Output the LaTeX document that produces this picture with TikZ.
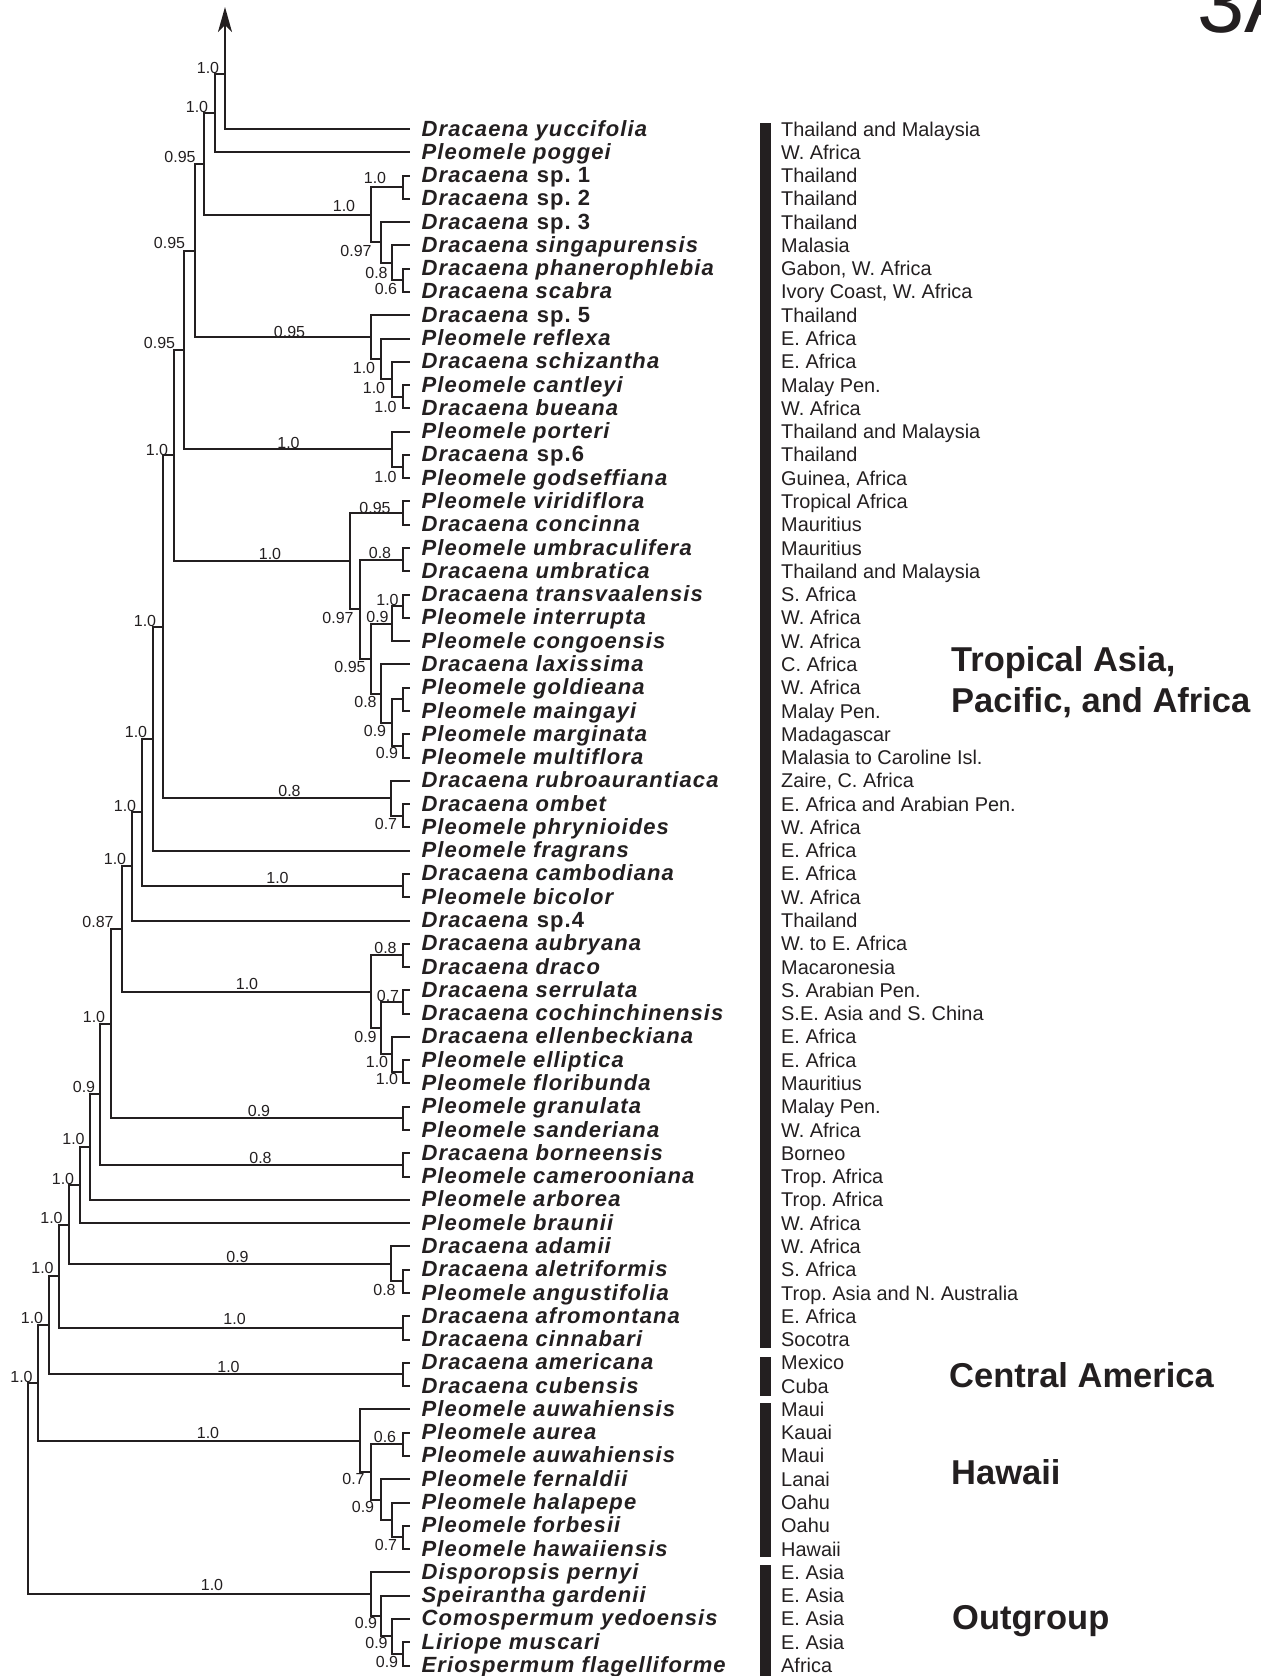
\documentclass[tikz,border=0pt]{standalone}
\usepackage{fontspec}
\setmainfont{Liberation Sans}
\newfontfamily\taxafont{Liberation Sans}[LetterSpace=5.0]
\usetikzlibrary{arrows.meta,calc}
\definecolor{ink}{RGB}{35,31,32}
\frenchspacing

\begin{document}
\begin{tikzpicture}[x=1pt, y=-1pt,
                branch/.style={draw=ink, line width=2pt},
                longarrow/.style={-{Stealth[length=25pt, width=14pt, inset=7pt]}},
                taxon/.style={anchor=base west, inner sep=0pt, text=ink,
                              font=\taxafont\fontsize{22}{24}\selectfont\bfseries\itshape},
                place/.style={anchor=base west, inner sep=0pt, text=ink, font=\fontsize{19.9}{24}\selectfont},
                supp/.style={inner sep=0pt, text=ink, font=\fontsize{16}{16}\selectfont},
                region/.style={anchor=base west, inner sep=0pt, text=ink, font=\fontsize{34.5}{40}\selectfont\bfseries}]

                \useasboundingbox (0,0) rectangle (1261,1676);
                \clip (0,0) rectangle (1261,1676);

                % Taxa and distribution
                \foreach \tx/\pl [count=\i] in {
                    Dracaena yuccifolia/Thailand and Malaysia,
                    Pleomele poggei/W. Africa,
                    Dracaena \textup{sp. 1}/Thailand,
                    Dracaena \textup{sp. 2}/Thailand,
                    Dracaena \textup{sp. 3}/Thailand,
                    Dracaena singapurensis/Malasia,
                    Dracaena phanerophlebia/{Gabon, W. Africa},
                    Dracaena scabra/{Ivory Coast, W. Africa},
                    Dracaena \textup{sp. 5}/Thailand,
                    Pleomele reflexa/E. Africa,
                    Dracaena schizantha/E. Africa,
                    Pleomele cantleyi/Malay Pen.,
                    Dracaena bueana/W. Africa,
                    Pleomele porteri/Thailand and Malaysia,
                    Dracaena \textup{sp.6}/Thailand,
                    Pleomele godseffiana/{Guinea, Africa},
                    Pleomele viridiflora/Tropical Africa,
                    Dracaena concinna/Mauritius,
                    Pleomele umbraculifera/Mauritius,
                    Dracaena umbratica/Thailand and Malaysia,
                    Dracaena transvaalensis/S. Africa,
                    Pleomele interrupta/W. Africa,
                    Pleomele congoensis/W. Africa,
                    Dracaena laxissima/C. Africa,
                    Pleomele goldieana/W. Africa,
                    Pleomele maingayi/Malay Pen.,
                    Pleomele marginata/Madagascar,
                    Pleomele multiflora/Malasia to Caroline Isl.,
                    Dracaena rubroaurantiaca/{Zaire, C. Africa},
                    Dracaena ombet/E. Africa and Arabian Pen.,
                    Pleomele phrynioides/W. Africa,
                    Pleomele fragrans/E. Africa,
                    Dracaena cambodiana/E. Africa,
                    Pleomele bicolor/W. Africa,
                    Dracaena \textup{sp.4}/Thailand,
                    Dracaena aubryana/W. to E. Africa,
                    Dracaena draco/Macaronesia,
                    Dracaena serrulata/S. Arabian Pen.,
                    Dracaena cochinchinensis/S.E. Asia and S. China,
                    Dracaena ellenbeckiana/E. Africa,
                    Pleomele elliptica/E. Africa,
                    Pleomele floribunda/Mauritius,
                    Pleomele granulata/Malay Pen.,
                    Pleomele sanderiana/W. Africa,
                    Dracaena borneensis/Borneo,
                    Pleomele camerooniana/Trop. Africa,
                    Pleomele arborea/Trop. Africa,
                    Pleomele braunii/W. Africa,
                    Dracaena adamii/W. Africa,
                    Dracaena aletriformis/S. Africa,
                    Pleomele angustifolia/Trop. Asia and N. Australia,
                    Dracaena afromontana/E. Africa,
                    Dracaena cinnabari/Socotra,
                    Dracaena americana/Mexico,
                    Dracaena cubensis/Cuba,
                    Pleomele auwahiensis/Maui,
                    Pleomele aurea/Kauai,
                    Pleomele auwahiensis/Maui,
                    Pleomele fernaldii/Lanai,
                    Pleomele halapepe/Oahu,
                    Pleomele forbesii/Oahu,
                    Pleomele hawaiiensis/Hawaii,
                    Disporopsis pernyi/E. Asia,
                    Speirantha gardenii/E. Asia,
                    Comospermum yedoensis/E. Asia,
                    Liriope muscari/E. Asia,
                    Eriospermum flagelliforme/Africa} {
                    \pgfmathsetmacro\yy{129+(\i-1)*23.28}
                    \coordinate (t\i) at (410,\yy);
                    \node[taxon] (tax\i) at (421.5,\yy+7) {\tx};
                    \node[place] (loc\i) at (781,\yy+7) {\pl};
                }

                % Long branch to D. yuccifolia
                \coordinate (yuc) at (225,74);
                \coordinate (yuctop) at (225,7);
                \draw[branch] (yuc) |- (t1);
                \draw[branch, longarrow] (yuc) -- (yuctop);

                % Clades, children first
                \foreach \nd/\nx/\ca/\cb in {
                    nA1/403/t3/t4, nA2/403/t7/t8, nA3/392/t6/nA2, nA4/381/t5/nA3, nA5/371/nA1/nA4,
                    nTop/215/yuc/t2, nB/204/nTop/nA5,
                    nB1/403/t12/t13, nB2/392/t11/nB1, nB3/381/t10/nB2, nB4/371/t9/nB3, nC/195/nB/nB4,
                    nC1/403/t15/t16, nC2/392/t14/nC1, nD/184/nC/nC2,
                    nD1/403/t17/t18, nD2/403/t19/t20, nD3/403/t21/t22, nD4/392/nD3/t23,
                    nD5/403/t25/t26, nD6/403/t27/t28, nD7/392/nD5/nD6, nD8/381/t24/nD7,
                    nD9/371/nD4/nD8, nD10/360/nD2/nD9, nD11/350/nD1/nD10, nE/174/nD/nD11,
                    nE1/403/t30/t31, nE2/391/t29/nE1, nF/163/nE/nE2, nG/153/nF/t32,
                    nH1/403/t33/t34, nH/142/nG/nH1, nI/132/nH/t35,
                    nJ1/403/t36/t37, nJ2/403/t38/t39, nJ3/403/t41/t42, nJ4/392/t40/nJ3,
                    nJ5/381/nJ2/nJ4, nJ6/371/nJ1/nJ5, nJ/122/nI/nJ6,
                    nK1/403/t43/t44, nK/111/nJ/nK1, nL1/403/t45/t46, nL/100/nK/nL1,
                    nM/90/nL/t47, nN/80/nM/t48,
                    nO1/403/t50/t51, nO2/391/t49/nO1, nO/69/nN/nO2,
                    nP1/403/t52/t53, nP/59/nO/nP1, nQ1/403/t54/t55, nQ/49/nP/nQ1,
                    nR1/403/t57/t58, nR2/403/t61/t62, nR3/392/t60/nR2, nR4/381/t59/nR3,
                    nR5/371/nR1/nR4, nR6/360/t56/nR5, nS/38/nQ/nR6,
                    nT1/403/t66/t67, nT2/392/t65/nT1, nT3/381/t64/nT2, nT4/371/t63/nT3,
                    nU/28/nS/nT4} {
                    \path ($(\ca)!.5!(\cb)$) coordinate (m);
                    \coordinate (\nd) at (m -| \nx,0);
                    \draw[branch] (\nd) |- (\ca);
                    \draw[branch] (\nd) |- (\cb);
                }

                % Support values
                \foreach \v/\lx/\ly [count=\k] in {
                    1.0/208/68, 1.0/197/107, 0.95/180/157, 1.0/375/178, 1.0/344/206,
                    0.95/169.5/243, 0.97/356/251, 0.8/376.5/273, 0.6/386/289,
                    0.95/289.5/331.7, 0.95/159.5/343.3, 1.0/364/368.3, 1.0/374/388.3, 1.0/385.5/406.7,
                    1.0/288.5/442.7, 1.0/157/450, 1.0/385.5/476.7, 0.95/375/507.7, 1.0/270/554.3,
                    0.8/380/553.3, 1.0/387.5/600, 0.97/338/618, 0.9/377.5/617, 1.0/145/621,
                    0.95/350/667, 0.8/365.5/702, 0.9/375/731, 0.9/387/753, 1.0/136/732.3,
                    0.8/289.5/790.7, 1.0/125/806, 0.7/386/824, 1.0/115/859,
                    1.0/277.5/878, 0.87/98/921.7, 0.8/385.5/948, 1.0/247/984, 0.7/388/996,
                    1.0/94/1016.7, 0.9/365.5/1036.7, 1.0/377/1061.7, 1.0/387/1079, 0.9/84/1086.7,
                    0.9/259/1110.7, 1.0/73.5/1139, 0.8/260.5/1157.7, 1.0/63/1179.3, 1.0/51.5/1217.7,
                    0.9/237.5/1256.7, 1.0/42.5/1268.3, 0.8/384.5/1290, 1.0/32/1318.3, 1.0/234.6/1319.3,
                    1.0/228.5/1366.7, 1.0/21.5/1376.7, 1.0/208/1432.7, 0.6/385/1436.7, 0.7/353.5/1479,
                    0.9/363/1506.7, 0.7/386/1545, 1.0/212/1585, 0.9/366/1623.3, 0.9/376.5/1643.3,
                    0.9/387/1661.7} {
                    \node[supp] (bs\k) at (\lx,\ly) {\v};
                }

                % Region bars
                \foreach \ya/\yb in {123/1348, 1357/1396, 1403/1557, 1565/1676} {
                    \fill[ink] (759.5,\ya) rectangle (770.5,\yb);
                }

                % Regions
                \node[region] (tropa) at (951,671) {Tropical Asia,};
                \node[region] (tropb) at (951,712) {Pacific, and Africa};
                \node[region] (centam) at (949,1387) {Central America};
                \node[region] (hawaii) at (951,1484) {Hawaii};
                \node[region] (outgrp) at (952,1629) {Outgroup};

                % Panel
                \node[anchor=base west, inner sep=0pt, text=ink, font=\fontsize{85}{85}\selectfont] (panel) at (1197,32) {3A};

            \end{tikzpicture}
\end{document}
